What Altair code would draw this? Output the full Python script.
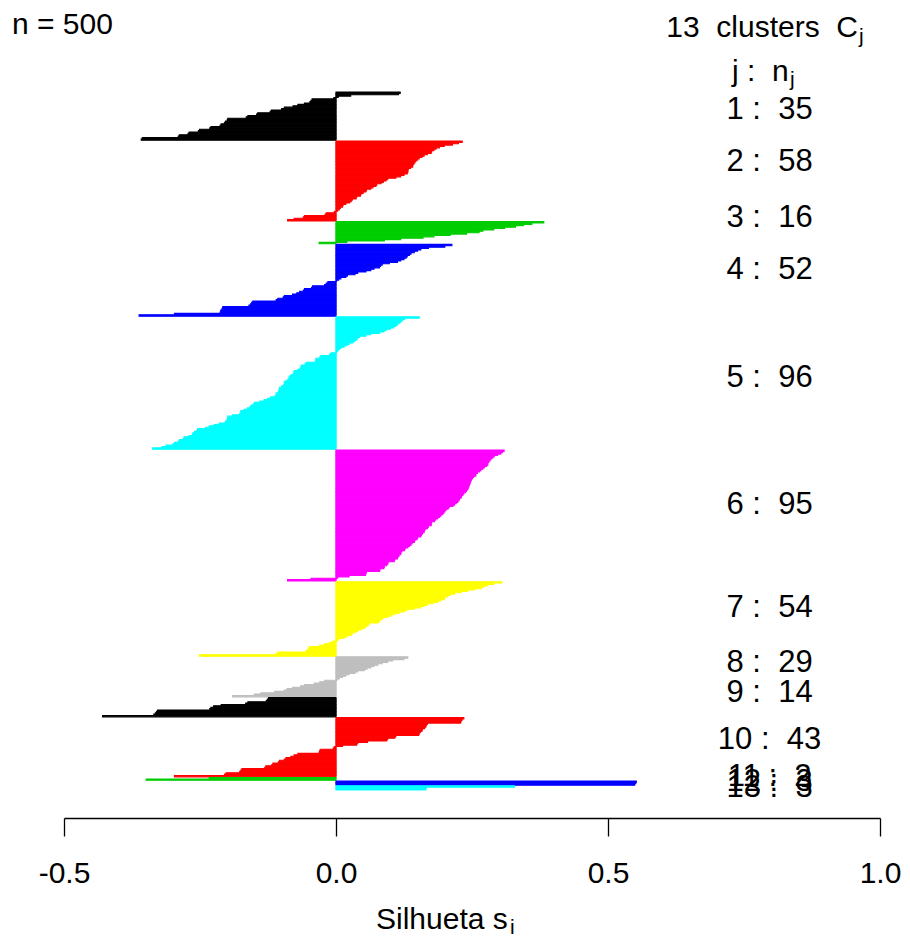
import altair as alt
import pandas as pd

# ---------------- data ----------------
cluster_sizes = [35, 58, 16, 52, 96, 95, 54, 29, 14, 43, 2, 3, 3]
palette = ["#000000", "#FF0000", "#00CD00", "#0000FF", "#00FFFF", "#FF00FF", "#FFFF00", "#BEBEBE"]

sil_c1 = [0.118, 0.115, 0.027, 0.004, -0.004, -0.044, -0.046, -0.048, -0.058, -0.070,
          -0.079, -0.095, -0.100, -0.119, -0.121, -0.144, -0.146, -0.162, -0.165, -0.199,
          -0.200, -0.203, -0.205, -0.211, -0.213, -0.230, -0.232, -0.251, -0.253, -0.270,
          -0.272, -0.288, -0.290, -0.356, -0.358]
sil_c2 = [0.232, 0.225, 0.214, 0.199, 0.190, 0.184, 0.180, 0.176, 0.175, 0.168,
          0.162, 0.158, 0.153, 0.150, 0.147, 0.145, 0.143, 0.141, 0.141, 0.137,
          0.133, 0.132, 0.132, 0.131, 0.125, 0.119, 0.110, 0.095, 0.092, 0.087,
          0.083, 0.075, 0.0735, 0.068, 0.064, 0.056, 0.055, 0.050, 0.046, 0.045,
          0.038, 0.037, 0.030, 0.028, 0.025, 0.018, 0.013, 0.012, 0.008, 0.006,
          0.003, -0.003, -0.018, -0.020, -0.058, -0.060, -0.077, -0.089]
sil_c3 = [0.382, 0.360, 0.345, 0.330, 0.310, 0.290, 0.270, 0.263, 0.240, 0.210,
          0.180, 0.160, 0.119, 0.089, 0.020, -0.031]
sil_c4 = [0.213, 0.200, 0.170, 0.156, 0.150, 0.144, 0.138, 0.135, 0.131, 0.129,
          0.125, 0.119, 0.113, 0.098, 0.085, 0.082, 0.080, 0.070, 0.064, 0.055,
          0.040, 0.035, 0.021, 0.018, 0.009, 0.005, 0.001, -0.015, -0.018, -0.021,
          -0.043, -0.045, -0.058, -0.060, -0.067, -0.072, -0.080, -0.095, -0.097, -0.107,
          -0.110, -0.153, -0.155, -0.157, -0.160, -0.208, -0.209, -0.211, -0.212, -0.213,
          -0.297, -0.362]
sil_c5 = [0.153, 0.126, 0.122, 0.119, 0.116, 0.113, 0.110, 0.106, 0.100, 0.092,
          0.088, 0.080, 0.064, 0.055, 0.043, 0.040, 0.038, 0.034, 0.031, 0.024,
          0.020, 0.015, 0.009, 0.006, 0.003, 0.001, -0.009, -0.012, -0.028, -0.030,
          -0.037, -0.037, -0.038, -0.055, -0.057, -0.064, -0.064, -0.066, -0.070, -0.077,
          -0.077, -0.079, -0.083, -0.086, -0.086, -0.088, -0.092, -0.095, -0.095, -0.096,
          -0.100, -0.104, -0.104, -0.105, -0.106, -0.110, -0.110, -0.112, -0.120, -0.126,
          -0.132, -0.140, -0.150, -0.152, -0.156, -0.158, -0.163, -0.169, -0.175, -0.175,
          -0.177, -0.190, -0.199, -0.199, -0.200, -0.202, -0.204, -0.215, -0.224, -0.233,
          -0.240, -0.254, -0.256, -0.260, -0.263, -0.264, -0.270, -0.279, -0.281, -0.288,
          -0.290, -0.297, -0.300, -0.3125, -0.320, -0.337]
sil_c6 = [0.309, 0.306, 0.303, 0.297, 0.291, 0.288, 0.285, 0.283, 0.281, 0.279,
          0.279, 0.277, 0.273, 0.270, 0.2665, 0.264, 0.260, 0.257, 0.257, 0.253,
          0.251, 0.249, 0.248, 0.247, 0.246, 0.245, 0.244, 0.243, 0.242, 0.240,
          0.238, 0.235, 0.233, 0.231, 0.230, 0.227, 0.226, 0.224, 0.221, 0.218,
          0.215, 0.208, 0.206, 0.202, 0.200, 0.198, 0.196, 0.193, 0.190, 0.187,
          0.183, 0.181, 0.176, 0.175, 0.175, 0.170, 0.168, 0.164, 0.162, 0.162,
          0.159, 0.157, 0.156, 0.150, 0.149, 0.145, 0.144, 0.140, 0.138, 0.135,
          0.132, 0.127, 0.126, 0.121, 0.119, 0.119, 0.116, 0.114, 0.113, 0.108,
          0.107, 0.096, 0.095, 0.093, 0.089, 0.088, 0.081, 0.080, 0.056, 0.055,
          0.054, 0.024, 0.003, -0.046, -0.089]
sil_c7 = [0.305, 0.290, 0.279, 0.272, 0.267, 0.255, 0.242, 0.230, 0.218, 0.210,
          0.205, 0.200, 0.199, 0.193, 0.187, 0.178, 0.168, 0.162, 0.156, 0.144,
          0.130, 0.126, 0.116, 0.108, 0.101, 0.095, 0.086, 0.083, 0.080, 0.078,
          0.061, 0.059, 0.055, 0.052, 0.046, 0.040, 0.036, 0.030, 0.028, 0.020,
          0.015, 0.005, 0.003, -0.006, -0.012, -0.021, -0.030, -0.049, -0.050, -0.052,
          -0.055, -0.107, -0.110, -0.251]
sil_c8 = [0.132, 0.125, 0.104, 0.095, 0.085, 0.077, 0.070, 0.064, 0.057, 0.052,
          0.040, 0.035, 0.024, 0.018, 0.012, 0.006, 0.002, -0.021, -0.030, -0.040,
          -0.058, -0.065, -0.080, -0.090, -0.095, -0.113, -0.138, -0.150, -0.190]
sil_c9 = [-0.124, -0.126, -0.128, -0.162, -0.166, -0.211, -0.225, -0.230, -0.232, -0.328,
          -0.330, -0.332, -0.335, -0.429]
sil_c10 = [0.235, 0.232, 0.230, 0.229, 0.168, 0.166, 0.165, 0.163, 0.159, 0.158,
           0.155, 0.153, 0.152, 0.110, 0.108, 0.095, 0.093, 0.058, 0.040, 0.038,
           0.012, -0.003, -0.005, -0.029, -0.030, -0.031, -0.070, -0.077, -0.083, -0.092,
           -0.095, -0.104, -0.106, -0.116, -0.118, -0.129, -0.131, -0.173, -0.175, -0.177,
           -0.202, -0.205, -0.297]
sil_c11 = [-0.233, -0.349]
sil_c12 = [0.552, 0.551, 0.549]
sil_c13 = [0.328, 0.166, 0.165]

sil_values = [sil_c1, sil_c2, sil_c3, sil_c4, sil_c5, sil_c6, sil_c7, sil_c8,
              sil_c9, sil_c10, sil_c11, sil_c12, sil_c13]

# label vertical positions (in bar units)
label_pos = [13.0, 50.7, 91.3, 129.0, 207.3, 299.4, 374.1, 414.0, 435.7, 469.8,
             496.6, 500.2, 504.6]

n_total = sum(cluster_sizes)
k = len(cluster_sizes)
SP = "\u00a0"  # non-breaking space keeps the double spaces of the original

# ---------------- build tables ----------------
rows = []
pos = 0.0
for j, vals in enumerate(sil_values, start=1):
    if j > 1:
        pos += 0.5
    for v in vals:
        rows.append({"cluster": j, "s": v, "y0": pos, "y1": pos + 1.0, "zero": 0.0,
                     "col": palette[(j - 1) % 8]})
        pos += 1.0
df = pd.DataFrame(rows)

lab = pd.DataFrame({
    "txt": [f"{j}{SP}:{SP}{SP}{n}" for j, n in zip(range(1, k + 1), cluster_sizes)],
    "ypos": label_pos,
    "xpos": [0.797] * k,
})

FONT = "Liberation Sans"
W, H = 816, 810
unit = 1.3794
top_off = 84
y_dom = [-top_off / unit, (H - top_off) / unit]

xscale = alt.Scale(domain=[-0.5, 1.0], nice=False, zero=False)
yscale = alt.Scale(domain=y_dom, nice=False, zero=False, reverse=True)

xaxis = alt.Axis(values=[-0.5, 0.0, 0.5, 1.0], title=None, grid=False,
                 labelExpr="replace(format(datum.value, '.1f'), '\u2212', '-')",
                 labelFont=FONT, labelFontSize=30, labelColor="#000000",
                 labelPadding=22, tickSize=18, tickColor="#000000", tickWidth=1.3,
                 domainColor="#000000", domainWidth=1.3, labelFlush=False)

bars = alt.Chart(df).mark_rect(strokeWidth=1.1).encode(
    x=alt.X("s:Q", scale=xscale, axis=xaxis),
    x2="zero:Q",
    y=alt.Y("y0:Q", scale=yscale, axis=None),
    y2="y1:Q",
    color=alt.Color("col:N", scale=None),
    stroke=alt.Stroke("col:N", scale=None),
)

labels = alt.Chart(lab).mark_text(font=FONT, fontSize=31, align="center",
                                  baseline="middle", color="#000000").encode(
    x=alt.X("xpos:Q", scale=xscale),
    y=alt.Y("ypos:Q", scale=yscale),
    text="txt:N",
)

def txt(s, x, y, size=30, align="left"):
    return alt.Chart(pd.DataFrame({"t": [s]})).mark_text(
        font=FONT, fontSize=size, align=align, baseline="middle", color="#000000"
    ).encode(x=alt.value(x), y=alt.value(y), text="t:N")

annots = [
    txt(f"n = {n_total}", -52, 17),
    txt(f"{k}{SP}{SP}clusters{SP}{SP}C", 794, 20, align="right"),
    txt("j", 795, 29, size=21),
    txt(f"j{SP}:{SP}{SP}n", 668, 64),
    txt("j", 726, 72, size=21),
    txt("Silhueta s", 312, 912),
    txt("i", 446, 920, size=21),
]

chart = alt.layer(bars, labels, *annots).properties(
    width=W, height=H,
    autosize=alt.AutoSizeParams(type="none"),
    padding={"left": 56, "top": 0, "right": 22, "bottom": 120},
).configure_view(stroke=None)

chart.save("out.html", embed_options={"renderer": "svg", "actions": False})
